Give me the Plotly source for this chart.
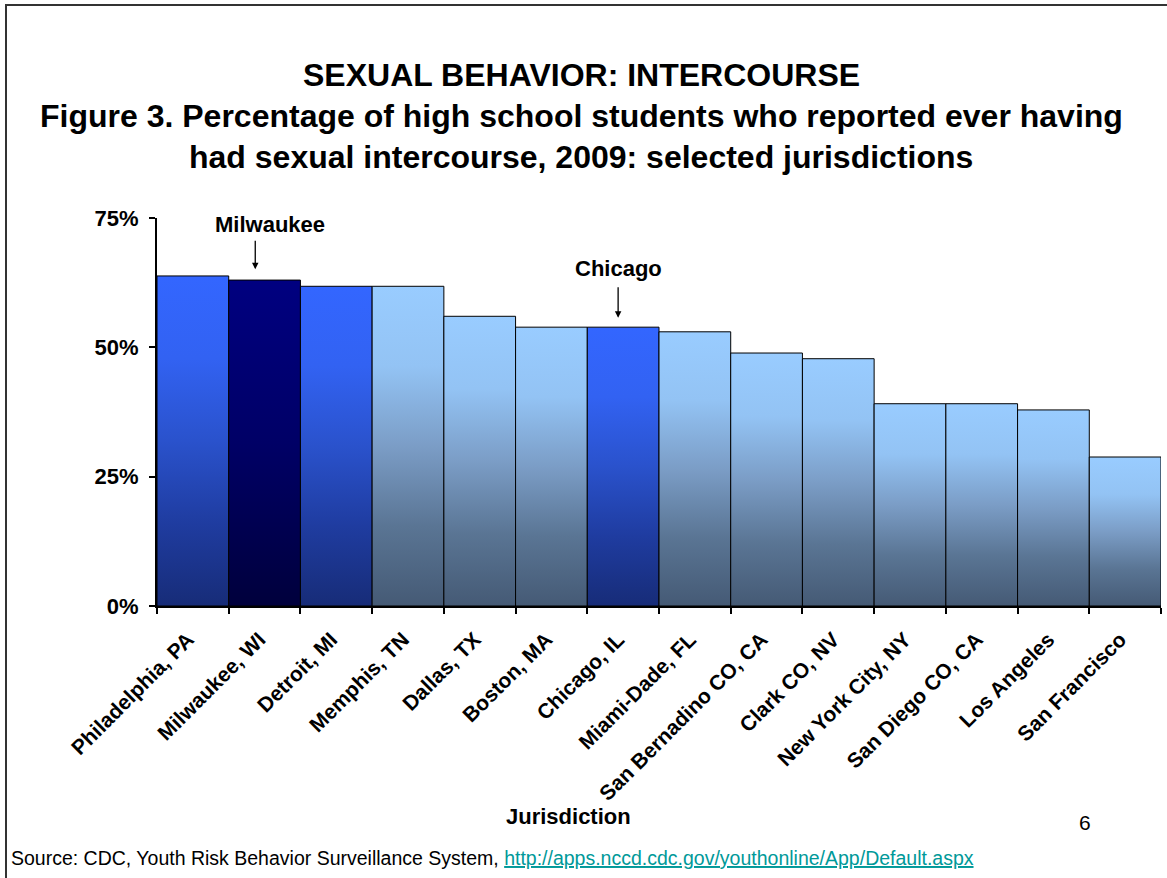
import plotly.graph_objects as go

jurisdictions = ["Philadelphia, PA", "Milwaukee, WI", "Detroit, MI", "Memphis, TN", "Dallas, TX",
                 "Boston, MA", "Chicago, IL", "Miami-Dade, FL", "San Bernadino CO, CA", "Clark CO, NV",
                 "New York City, NY", "San Diego CO, CA", "Los Angeles", "San Francisco"]
pct_ever_sex = [63.8, 63.0, 61.8, 61.8, 56.0, 53.9, 53.9, 53.0, 48.9, 47.8, 39.1, 39.1, 37.9, 28.8]
bar_group = ["blue", "navy", "blue", "light", "light", "light", "blue", "light", "light", "light",
             "light", "light", "light", "light"]
y_ticks = [0, 25, 50, 75]
y_tick_labels = ["0%", "25%", "50%", "75%"]

gradients = {
    "light": [[0, "#455A75"], [0.25, "#5A7594"], [0.5, "#7B9DC6"], [0.75, "#93C3F4"], [1, "#99CCFF"]],
    "blue": [[0, "#172C78"], [0.25, "#1F3CA0"], [0.5, "#2A52CC"], [0.75, "#3262F2"], [1, "#3366FF"]],
    "navy": [[0, "#00003C"], [0.5, "#000066"], [1, "#000080"]],
}

FONT = "Liberation Sans, Arial, sans-serif"

# plot area in page pixels: x 157..1161, y 218 (75%)..606 (0%)
L, R, T, B = 157, 1161, 218, 606


def px(x):
    return (x - L) / (R - L)


def py(y):
    return (B - y) / (B - T)


fig = go.Figure()
for i, (name, v, grp) in enumerate(zip(jurisdictions, pct_ever_sex, bar_group)):
    fig.add_trace(go.Scatter(
        x=[i - 0.5, i - 0.5, i + 0.5, i + 0.5, i - 0.5],
        y=[0, v, v, 0, 0],
        mode="lines", fill="toself",
        line=dict(color="black", width=1),
        fillgradient=dict(type="vertical", colorscale=gradients[grp], start=0, stop=v),
        name=name, hoverinfo="skip", showlegend=False,
    ))

fig.update_xaxes(
    range=[-0.5, len(jurisdictions) - 0.5],
    tickmode="array", tickvals=list(range(len(jurisdictions))), ticktext=jurisdictions,
    ticks="", tickangle=-45, ticklabelshift=-5, ticklabelstandoff=11,
    tickfont=dict(family=FONT, size=21, color="black", weight="bold"),
    minor=dict(tickmode="array", tickvals=[i - 0.5 for i in range(len(jurisdictions) + 1)],
               ticks="outside", ticklen=6, tickcolor="black", tickwidth=1.5, showgrid=False),
    showline=True, linecolor="black", linewidth=2, showgrid=False, zeroline=False,
)
fig.update_yaxes(
    range=[0, 75], tickmode="array", tickvals=y_ticks, ticktext=y_tick_labels,
    ticks="outside", ticklen=6, tickcolor="black", tickwidth=1.5, ticklabelstandoff=6,
    tickfont=dict(family=FONT, size=22, color="black", weight="bold"),
    showline=True, linecolor="black", linewidth=2, showgrid=False, zeroline=False,
)

title_lines = ["SEXUAL BEHAVIOR: INTERCOURSE",
               "Figure 3. Percentage of high school students who reported ever having",
               "had sexual intercourse, 2009: selected jurisdictions"]
for line, y in zip(title_lines, [75, 116, 157]):
    fig.add_annotation(text=f"<b>{line}</b>", xref="paper", yref="paper",
                       x=px(581), y=py(y), showarrow=False,
                       xanchor="center", yanchor="middle",
                       font=dict(family=FONT, size=32, color="black"))

# callouts
fig.add_annotation(text="<b>Milwaukee</b>", x=1.08, y=73.8, showarrow=False,
                   font=dict(family=FONT, size=22, color="black"))
fig.add_annotation(text="", x=0.87, y=65.1, ax=0, ay=-30, showarrow=True,
                   arrowhead=2, arrowsize=1, arrowwidth=1.3, arrowcolor="black")
fig.add_annotation(text="<b>Chicago</b>", x=5.93, y=65.3, showarrow=False,
                   font=dict(family=FONT, size=22, color="black"))
fig.add_annotation(text="", x=5.93, y=55.7, ax=0, ay=-32, showarrow=True,
                   arrowhead=2, arrowsize=1, arrowwidth=1.3, arrowcolor="black")

fig.add_annotation(text="<b>Jurisdiction</b>", xref="paper", yref="paper",
                   x=px(568), y=py(817), showarrow=False, yanchor="middle",
                   font=dict(family=FONT, size=22, color="black"))
fig.add_annotation(text="6", xref="paper", yref="paper",
                   x=px(1093), y=py(822), showarrow=False, yanchor="middle",
                   font=dict(family=FONT, size=21, color="black"))
fig.add_annotation(
    text='Source: CDC, Youth Risk Behavior Surveillance System, '
         '<a href="http://apps.nccd.cdc.gov/youthonline/App/Default.aspx" '
         'style="color:#009999;text-decoration:underline">http://apps.nccd.cdc.gov/youthonline/App/Default.aspx</a>',
    xref="paper", yref="paper", x=px(9), y=py(858),
    xanchor="left", yanchor="middle", showarrow=False,
    font=dict(family=FONT, size=19.5, color="black"))

# slide frame
fig.add_shape(type="rect", xref="paper", yref="paper",
              x0=px(6), x1=px(1190), y0=py(900), y1=py(5),
              line=dict(color="#333333", width=2), layer="below")

fig.update_layout(
    width=1167, height=878,
    margin=dict(l=L, r=1167 - R, t=T, b=878 - B),
    paper_bgcolor="white", plot_bgcolor="white",
    showlegend=False,
)

fig.write_html("out.html", config={"displayModeBar": False},
               post_script="document.body.style.margin = '0';")
